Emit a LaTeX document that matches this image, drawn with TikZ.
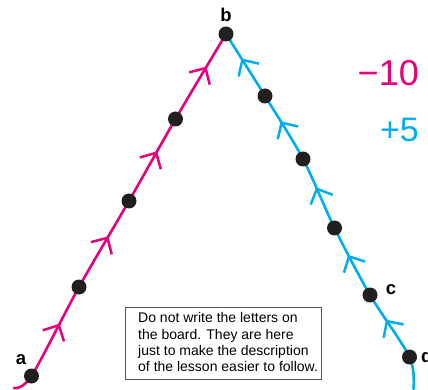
\documentclass[tikz,border=0pt]{standalone}
\usepackage{fontspec}
\setmainfont{Liberation Sans}
\usetikzlibrary{decorations.markings}
\definecolor{pinkc}{HTML}{E6007E}
\definecolor{bluec}{HTML}{00AEEF}
\definecolor{dotc}{HTML}{231F20}
\definecolor{boxc}{HTML}{555555}
\newcommand\mychev{\draw[line width=2.5pt, line cap=butt, line join=miter] (-12pt,12pt) -- (0,0) -- (-12pt,-12pt);}
\tikzset{
  dotnode/.style={circle, fill=dotc, inner sep=0pt, minimum size=15pt},
  lbl/.style={font=\fontsize{18.5}{20}\selectfont\bfseries, inner sep=0pt},
  pinkpath/.style={draw=pinkc, line width=2.6pt, line cap=round,
    decoration={markings,
      mark=at position 80pt with {\mychev},
      mark=at position 180pt with {\mychev},
      mark=at position 278pt with {\mychev},
      mark=at position 376pt with {\mychev}},
    postaction={decorate}},
  bluepath/.style={draw=bluec, line width=2.6pt, line cap=round,
    decoration={markings,
      mark=at position 75pt with {\mychev},
      mark=at position 150pt with {\mychev},
      mark=at position 225pt with {\mychev},
      mark=at position 300pt with {\mychev},
      mark=at position 374pt with {\mychev}},
    postaction={decorate}},
  notebox/.style={draw=boxc, line width=1pt},
  notetext/.style={font=\fontsize{14}{16.3}\selectfont, align=left, inner sep=0pt, anchor=north west},
}
\begin{document}
\begin{tikzpicture}[x=1pt,y=-1pt]
\useasboundingbox (0,0) rectangle (428,390);
% positions
\coordinate (ptail) at (14,388);
\coordinate (a) at (31.5,376);
\coordinate (p1) at (79,287);
\coordinate (p2) at (129,201);
\coordinate (p3) at (175.5,119);
\coordinate (b) at (226,34);
\coordinate (q1) at (265,96);
\coordinate (q2) at (303,159);
\coordinate (q3) at (334.5,228);
\coordinate (c) at (370,295);
\coordinate (d) at (409.5,357);
\coordinate (btail) at (413.5,389);
% paths
\draw[pinkpath] plot[smooth, tension=0.5] coordinates {(ptail) (a) (p1) (p2) (p3) (b)};
\draw[bluepath] plot[smooth, tension=0.5] coordinates {(btail) (d) (c) (q3) (q2) (q1) (b)};
% dots
\foreach \n in {a,p1,p2,p3,b,q1,q2,q3,c,d} \node[dotnode] (dot\n) at (\n) {};
% labels
\node[lbl] (la) at (21,360) {a};
\node[lbl] (lb) at (226,15) {b};
\node[lbl] (lc) at (391,290) {c};
\node[lbl, anchor=west] (ld) at (421,356) {d};
% numbers
\node[font=\fontsize{36}{36}\selectfont, text=pinkc, anchor=east, inner sep=0pt] (m10) at (419,73) {\textminus10};
\node[font=\fontsize{34}{34}\selectfont, text=bluec, anchor=east, inner sep=0pt] (p5) at (419,130) {+5};
% note box
\draw[notebox] (125,307) rectangle (321,379);
\node[notetext] (note) at (138,312.5) {Do not write the letters on\\the board. They are here\\just to make the description\\of the lesson easier to follow.};
\end{tikzpicture}
\end{document}
